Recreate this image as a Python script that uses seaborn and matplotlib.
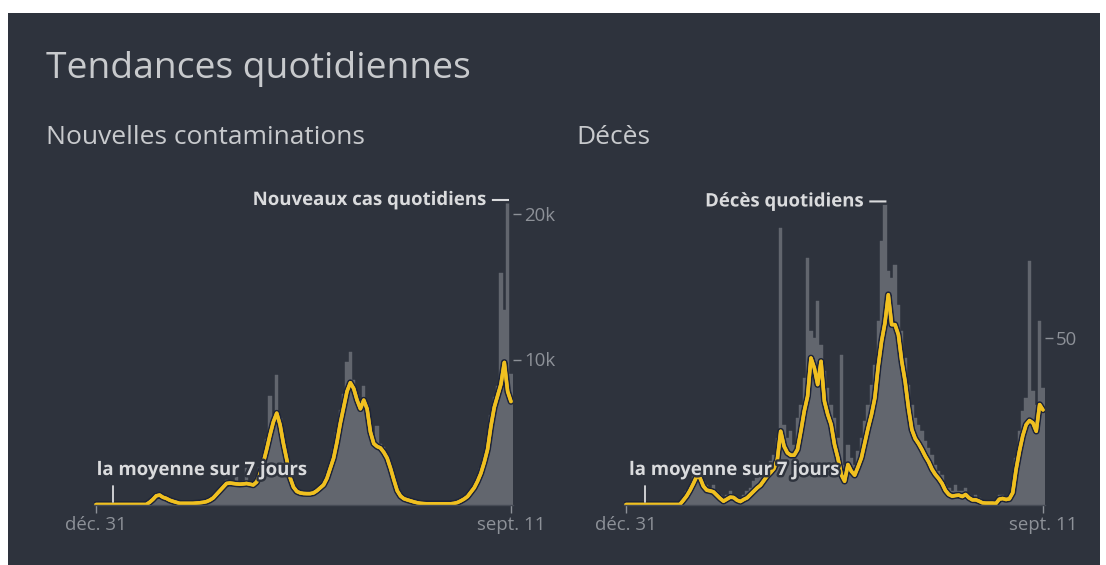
import numpy as np
import pandas as pd
import matplotlib
matplotlib.use("Agg")
import matplotlib.pyplot as plt
import matplotlib.patheffects as pe
from matplotlib.patches import Rectangle
import seaborn as sns

# ---------------- data (5-day sampling, day 0 = 31 Dec 2019, day 620 = 11 Sep 2021)
days = list(range(0, 621, 5))

x_tick_labels = ["déc. 31", "sept. 11"]

cases_avg = [0] * 16 + [
    150, 350, 600, 650, 500, 420, 300, 220, 150, 80, 80, 80, 80, 80, 100, 120,
    150, 200, 300, 450, 700, 950, 1200, 1450, 1480, 1450, 1420, 1400, 1420, 1450,
    1400, 1350, 1550, 2100, 2900, 3800, 4800, 5700, 6300, 5500, 4200, 3100, 1850,
    1200, 900, 800, 760, 750, 750, 800, 950, 1150, 1350, 1800, 2500, 3200, 4300,
    5600, 6700, 7800, 8400, 8000, 7200, 6600, 7200, 6600, 5000, 4200, 4000, 3900,
    3600, 3200, 2500, 1700, 950, 580, 400, 320, 250, 180, 120, 80, 60] + [50] * 8 + [
    80, 140, 250, 380, 550, 850, 1150, 1600, 2150, 2900, 3800, 5400, 6700, 7500,
    8300, 9800, 7800, 7100]

cases_daily = [0] * 16 + [
    300, 500, 800, 600, 500, 350, 300, 200, 120, 100, 80, 60, 100, 70, 120, 100,
    180, 250, 350, 600, 800, 1100, 1400, 1700, 1600, 1300, 1900, 1200, 1600, 2500,
    1300, 1500, 1900, 2600, 3400, 4500, 7500, 6200, 8900, 6000, 4600, 3400, 2200,
    1400, 1000, 900, 800, 900, 800, 900, 1100, 1300, 1600, 2100, 2800, 3800, 5000,
    6500, 7600, 9800, 10500, 8600, 7600, 7000, 8200, 6900, 5600, 4600, 5400, 4200,
    4000, 3400, 2800, 1900, 1100, 700, 450, 350, 280, 200, 140, 100, 70, 60, 50,
    60, 50, 60, 50, 60, 70, 100, 170, 300, 450, 650, 1000, 1300, 1900, 2500, 3400,
    4400, 6200, 7400, 8200, 16000, 13400, 21000, 9000]

deaths_avg = [0] * 17 + [
    1.2, 2.5, 4.2, 6.2, 8.4, 8, 5.5, 4.3, 4.1, 3.8, 2.8, 1.8, 1.0, 1.6, 2.2, 2.1,
    1.3, 0.9, 1.5, 2.0, 3.0, 4.0, 5.0, 5.8, 7.2, 8.6, 9.6, 10.8, 13.5, 22, 17.5,
    15.5, 14.8, 14.8, 16.5, 22, 28, 32.5, 44, 41, 36, 43, 31, 27, 24, 18, 14, 9, 7,
    12, 10, 8.8, 11.3, 14, 18.5, 23, 27, 32, 41.5, 49, 54.5, 63, 54, 54, 51, 43, 37,
    29, 22.5, 19.8, 18.3, 16.5, 14.5, 12.8, 10.6, 9, 7.8, 6.3, 4.2, 3.0, 2.5, 2.7,
    2.8, 2.4, 3.0, 2.0, 1.4, 1.4, 1.0, 0.5, 0.4, 0.4, 0.4, 0.3, 1.6, 1.8, 1.5, 1.7,
    3.5, 10.5, 16, 20.7, 24, 25.2, 24.5, 22, 30, 28.4]

deaths_daily = [0] * 17 + [
    2, 4, 5, 9, 12, 10, 7, 6, 5, 6, 4, 3, 2, 3, 4, 3, 2, 2, 3, 4, 5, 7, 8, 9, 10,
    12, 13, 15, 20, 83, 24, 20, 22, 18, 26, 30, 38, 74, 52, 50, 61, 48, 40, 35, 30,
    26, 20, 45, 12, 18, 14, 12, 16, 20, 25, 30, 36, 42, 55, 79, 91, 70, 68, 72, 60,
    52, 44, 36, 30, 26, 24, 22, 19, 17, 15, 12, 10, 9, 6, 5, 4, 6, 4, 4, 5, 3, 2,
    3, 2, 1, 1, 1, 1, 1, 3, 3, 2, 3, 6, 14, 22, 28, 32, 73, 34, 30, 55, 35]

cases_ticks = [10000, 20000]
cases_tick_labels = ["10k", "20k"]
deaths_ticks = [50]
deaths_tick_labels = ["50"]

# ---------------- style
BG = "#2e333d"
BAR = "#62666e"
YEL = "#f0c020"
TXT = "#c8cacd"
TICK = "#8d9198"
ANN = "#dadbdd"

sns.set_theme(style="dark")
plt.rcParams['font.family'] = ['Open Sans', 'DejaVu Sans']

W, H = 1106, 565
fig = plt.figure(figsize=(W / 100, H / 100), dpi=100, facecolor="white")
fig.add_artist(Rectangle((8 / W, 0), (1100 - 8) / W, 1 - 13 / H,
                         transform=fig.transFigure, facecolor=BG,
                         edgecolor="none", zorder=-10))

fig.text(46 / W, 1 - 69 / H, "Tendances quotidiennes", color=TXT,
         fontsize=26.8, va="center", ha="left")
fig.text(46 / W, 1 - 137 / H, "Nouvelles contaminations", color=TXT,
         fontsize=19, va="center", ha="left")
fig.text(576 / W, 1 - 137 / H, "Décès", color=TXT,
         fontsize=19, va="center", ha="left")

halo = [pe.withStroke(linewidth=3.5, foreground=BG)]
line_fx = [pe.withStroke(linewidth=4.8, foreground="#1d2438"), pe.Normal()]


def panel(rect, daily, avg, ymax, ticks, tick_labels, label, ann_x, tick_day,
          tick_lo, tick_hi):
    ax = fig.add_axes(rect)
    ax.set_facecolor("none")
    df = pd.DataFrame({"day": days, "daily": daily, "avg": avg})
    sns.histplot(data=df, x="day", weights="daily", binwidth=5,
                 binrange=(-2.5, 622.5), ax=ax,
                 color=BAR, alpha=1.0, linewidth=0.3, edgecolor=BAR)
    sns.lineplot(data=df, x="day", y="avg", ax=ax, color=YEL, linewidth=2.5)
    ax.lines[-1].set_path_effects(line_fx)
    ax.set_xlim(-3, 623)
    ax.set_ylim(0, ymax)
    ax.set_xlabel("")
    ax.set_ylabel("")
    ax.grid(False)
    for s in ["top", "left", "right"]:
        ax.spines[s].set_visible(False)
    ax.spines["bottom"].set_color("#464b55")
    ax.spines["bottom"].set_linewidth(1)
    ax.set_xticks([days[0], days[-1]], labels=x_tick_labels)
    ax.tick_params(axis="x", colors=TICK, labelcolor=TICK, length=6, width=1,
                   pad=2, labelsize=13.4, bottom=True)
    ax.yaxis.tick_right()
    ax.set_yticks(ticks, labels=tick_labels)
    ax.tick_params(axis="y", colors=TICK, labelcolor=TICK, length=6, width=1,
                   pad=2, labelsize=13.4, right=True, left=False)
    # max daily annotation
    i = int(np.argmax(daily))
    ax.annotate(label + " —", xy=(days[i], daily[i]), xytext=(3, 0),
                textcoords="offset pixels", ha="right", va="center",
                color=ANN, fontsize=13.4, fontweight="bold", path_effects=halo)
    # 7-day average annotation
    ax.text(ann_x, ymax * 0.108, "la moyenne sur 7 jours", ha="left",
            va="center", color=ANN, fontsize=13.4, fontweight="bold",
            path_effects=halo, zorder=5)
    ax.plot([tick_day, tick_day], [tick_lo, tick_hi], color=ANN, lw=1.3,
            zorder=6)
    return ax


# left panel: day -3 at px 94, day 623 at px 513; baseline 504.5, top 185.5
panel([94 / W, 1 - 504.5 / H, 419 / W, 319 / H], cases_daily, cases_avg,
      22000, cases_ticks, cases_tick_labels, "Nouveaux cas quotidiens",
      1, 25, 150, 1250)
# right panel: day -3 at px 624, day 623 at px 1045; 50 deaths at 338
panel([624 / W, 1 - 504.5 / H, 421 / W, 319.7 / H], deaths_daily, deaths_avg,
      96, deaths_ticks, deaths_tick_labels, "Décès quotidiens",
      4.5, 28, 0.8, 5.5)

fig.savefig("out.png", dpi=100, facecolor="white")
